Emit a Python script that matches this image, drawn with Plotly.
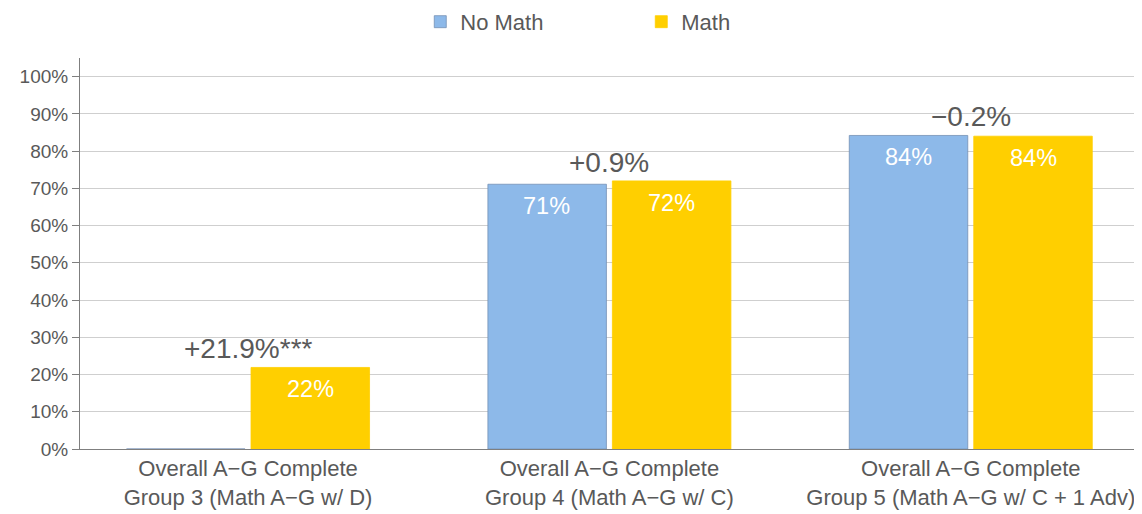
import plotly.graph_objects as go

categories = ["Overall A\u2212G Complete<br>Group 3 (Math A\u2212G w/ D)",
              "Overall A\u2212G Complete<br>Group 4 (Math A\u2212G w/ C)",
              "Overall A\u2212G Complete<br>Group 5 (Math A\u2212G w/ C + 1 Adv)"]
no_math = [0.0, 0.711, 0.842]
math = [0.219, 0.720, 0.840]
diff_labels = ["+21.9%***", "+0.9%", "\u22120.2%"]
y_ticks = [0, 0.1, 0.2, 0.3, 0.4, 0.5, 0.6, 0.7, 0.8, 0.9, 1.0]

BLUE = "#8DB9E9"
YELLOW = "#FFCF00"
GRAY = "#595959"
FONT = "Liberation Sans, Arial, sans-serif"

W, H = 1142, 514
ML, MR, MT, MB = 66, 13, 50, 72
XR = [-0.465, 2.46]
BARGAP = 0.311
px_per_cat = (W - ML - MR) / (XR[1] - XR[0])
slot = (1 - BARGAP) * px_per_cat / 2

def lbl(vals):
    return [f"{v:.0%}" if v > 0 else "" for v in vals]

fig = go.Figure()
fig.add_trace(go.Bar(name="No Math", x=categories, y=no_math,
                     marker=dict(color=BLUE, line=dict(color="#7590b5", width=0.8)),
                     cliponaxis=False))
fig.add_trace(go.Bar(name="Math", x=categories, y=math,
                     marker=dict(color=YELLOW, line=dict(color=YELLOW, width=0.8)),
                     cliponaxis=False))

for series, shift in ((no_math, -slot / 2), (math, slot / 2)):
    for c, v, t in zip(categories, series, lbl(series)):
        if t:
            fig.add_annotation(x=c, y=v, text=t, showarrow=False, yanchor="top",
                               yshift=-7, xshift=shift,
                               font=dict(size=23.5, color="white", family=FONT))

for c, a, b, t in zip(categories, no_math, math, diff_labels):
    fig.add_annotation(x=c, y=max(a, b), text=t, showarrow=False,
                       yanchor="bottom", yshift=1,
                       font=dict(size=28, color=GRAY, family=FONT))

fig.update_layout(
    width=W, height=H,
    margin=dict(l=ML, r=MR, t=MT, b=MB),
    paper_bgcolor="white", plot_bgcolor="white",
    barmode="group", bargap=BARGAP, bargroupgap=0.048,
    legend=dict(orientation="h", x=0.531, xanchor="center", y=0.973, yanchor="middle",
                yref="container", font=dict(size=22, color=GRAY, family=FONT),
                itemwidth=30, entrywidth=176, traceorder="normal"),
    font=dict(family=FONT, color=GRAY),
    showlegend=True,
)
fig.update_xaxes(range=XR, showline=True, linecolor="#7f7f7f", linewidth=1,
                 tickfont=dict(size=22, color=GRAY, family=FONT), ticks="",
                 showgrid=False)
fig.update_yaxes(range=[0, 1.05], tickvals=y_ticks, tickformat=".0%",
                 showline=True, linecolor="#7f7f7f", linewidth=1,
                 ticks="outside", ticklen=7, tickcolor="#7f7f7f",
                 gridcolor="#cfcfcf", gridwidth=1, zeroline=False,
                 tickfont=dict(size=19, color=GRAY, family=FONT))

fig.write_html("out.html")
